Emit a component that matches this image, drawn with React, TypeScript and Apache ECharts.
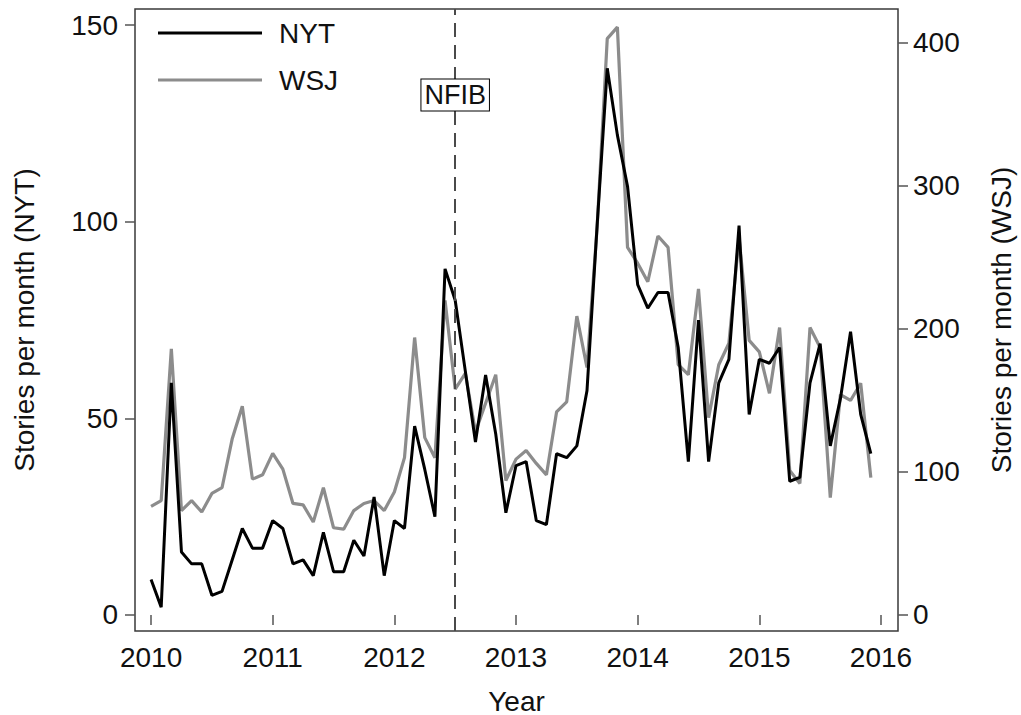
import React, { useEffect, useRef } from "react";
import * as echarts from "echarts";

const years = [2010, 2011, 2012, 2013, 2014, 2015, 2016];
const nytTicks = [0, 50, 100, 150];
const wsjTicks = [0, 100, 200, 300, 400];

const nyt = [
  9, 2, 59, 16, 13, 13, 5, 6, 14, 22, 17, 17,
  24, 22, 13, 14, 10, 21, 11, 11, 19, 15, 30, 10,
  24, 22, 48, 37, 25, 88, 80, 62, 44, 61, 46, 26,
  38, 39, 24, 23, 41, 40, 43, 57, 99, 139, 122, 109,
  84, 78, 82, 82, 68, 39, 75, 39, 59, 65, 99, 51,
  65, 64, 68, 34, 35, 59, 69, 43, 55, 72, 51, 41,
];

const wsj = [
  76, 80, 186, 73, 80, 72, 85, 89, 123, 146, 95, 98,
  113, 102, 78, 77, 65, 89, 61, 60, 73, 78, 80, 73,
  86, 110, 194, 124, 110, 220, 158, 169, 128, 148, 168, 94,
  109, 115, 106, 98, 142, 149, 209, 173, 271, 403, 411, 257,
  246, 233, 265, 257, 175, 168, 228, 138, 175, 190, 264, 192,
  184, 155, 201, 101, 92, 201, 187, 82, 154, 150, 162, 96,
];

const eventX = 2012.5;
const eventLabel = "NFIB";
const startYear = 2010;

const FONT = '"Liberation Sans", Arial, Helvetica, sans-serif';

export default function App() {
  const ref = useRef<HTMLDivElement>(null);

  useEffect(() => {
    if (!ref.current) return;
    const chart = echarts.init(ref.current, null, { renderer: "svg" });
    const nytData = nyt.map((v, i) => [startYear + i / 12, v]);
    const wsjData = wsj.map((v, i) => [startYear + i / 12, v]);
    const textColor = "#111";
    const tickStyle = { show: true, length: 10, lineStyle: { color: "#555", width: 1.5 } };

    chart.setOption({
      animation: false,
      backgroundColor: "#fff",
      textStyle: { fontFamily: FONT },
      grid: {
        left: 135,
        right: 123,
        top: 9,
        bottom: 84,
        containLabel: false,
        outerBoundsMode: "none",
        show: true,
        borderColor: "#3a3a3a",
        borderWidth: 1.5,
        backgroundColor: "transparent",
      },
      legend: {
        orient: "vertical",
        left: 153,
        top: 14,
        itemWidth: 104,
        itemHeight: 3,
        itemGap: 19,
        icon: "rect",
        textStyle: { fontSize: 28, color: textColor, fontFamily: FONT, padding: [0, 0, 0, 12] },
        data: ["NYT", "WSJ"],
      },
      xAxis: {
        type: "value",
        min: 2009.868,
        max: 2016.14,
        name: "Year",
        nameLocation: "middle",
        nameGap: 56,
        nameTextStyle: { fontSize: 28, color: textColor, fontFamily: FONT },
        axisLine: { show: false },
        axisTick: { ...tickStyle, customValues: years },
        axisLabel: {
          customValues: years,
          fontSize: 28,
          color: textColor,
          margin: 12,
          fontFamily: FONT,
          formatter: (v: number) => String(Math.round(v)),
        },
        splitLine: { show: false },
      },
      yAxis: [
        {
          type: "value",
          position: "left",
          min: -4.07,
          max: 154.07,
          name: "Stories per month (NYT)",
          nameLocation: "middle",
          nameGap: 97,
          nameTextStyle: { fontSize: 28, color: textColor, fontFamily: FONT },
          axisLine: { show: false },
          axisTick: { ...tickStyle, customValues: nytTicks },
          axisLabel: {
            customValues: nytTicks,
            fontSize: 28,
            color: textColor,
            margin: 17,
            fontFamily: FONT,
          },
          splitLine: { show: false },
        },
        {
          type: "value",
          position: "right",
          min: -11.19,
          max: 423.7,
          name: "Stories per month (WSJ)",
          nameLocation: "middle",
          nameRotate: 90,
          nameGap: 89,
          nameTextStyle: { fontSize: 28, color: textColor, fontFamily: FONT },
          axisLine: { show: false },
          axisTick: { ...tickStyle, customValues: wsjTicks },
          axisLabel: {
            customValues: wsjTicks,
            fontSize: 28,
            color: textColor,
            margin: 15,
            fontFamily: FONT,
          },
          splitLine: { show: false },
        },
      ],
      series: [
        {
          name: "WSJ",
          type: "line",
          yAxisIndex: 1,
          data: wsjData,
          symbol: "none",
          color: "#8c8c8c",
          lineStyle: { color: "#8c8c8c", width: 3.2 },
          z: 2,
        },
        {
          name: "NYT",
          type: "line",
          yAxisIndex: 0,
          data: nytData,
          symbol: "none",
          color: "#000",
          lineStyle: { color: "#000", width: 3 },
          z: 3,
          markLine: {
            silent: true,
            symbol: ["none", "none"],
            label: { show: false },
            lineStyle: { color: "#4a4a4a", width: 2, type: [14, 8] },
            data: [{ xAxis: eventX }],
          },
          markPoint: {
            silent: true,
            z: 10,
            symbol: "rect",
            symbolSize: 1,
            itemStyle: { color: "rgba(0,0,0,0)" },
            label: {
              show: true,
              position: "inside",
              formatter: eventLabel,
              fontSize: 27,
              color: textColor,
              fontFamily: FONT,
              backgroundColor: "#fff",
              borderColor: "#000",
              borderWidth: 1,
              padding: [3, 3, 1, 3],
            },
            data: [{ coord: [eventX, 132.2] }],
          },
        },
      ],
    });

    return () => chart.dispose();
  }, []);

  return (
    <div
      ref={ref}
      style={{ position: "fixed", left: 0, top: 0, width: 1021, height: 715, background: "#fff" }}
    />
  );
}
